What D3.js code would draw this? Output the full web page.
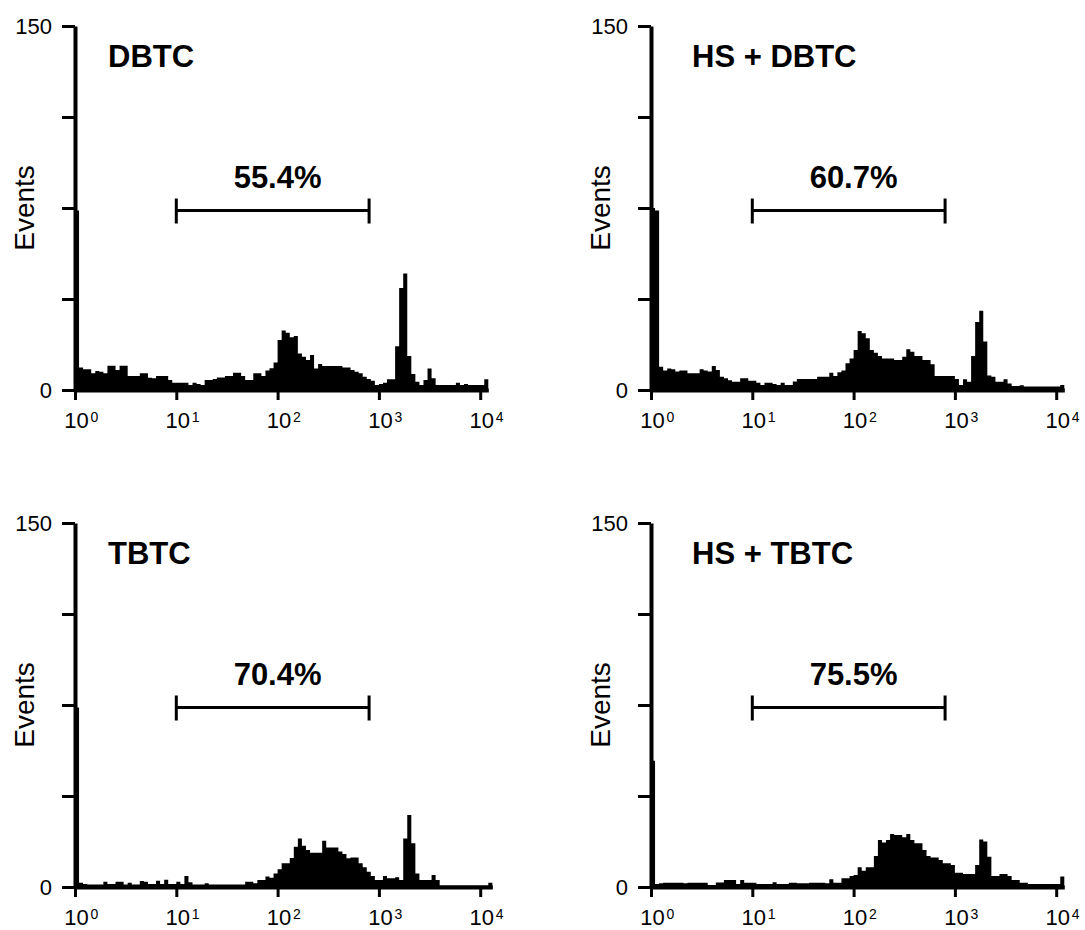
<!DOCTYPE html>
<html>
<head>
<meta charset="utf-8">
<script src="https://cdn.jsdelivr.net/npm/d3@7/dist/d3.min.js"></script>
<style>
body { margin: 0; background: #fff; }
svg { font-family: "Liberation Sans", Arial, Helvetica, sans-serif; }
</style>
</head>
<body>
<svg width="1085" height="930"></svg>
<script>
// each histogram bin is 0.04 decade wide, first bin starts at 10^0
var binWidth = 0.04;
var titles = ["DBTC", "HS + DBTC", "TBTC", "HS + TBTC"];
var percents = ["55.4%", "60.7%", "70.4%", "75.5%"];
var gate = [10, 800];
var yTicks = [0, 37.5, 75, 112.5, 150];
var yLabels = [0, 150];
var xTicks = [1, 10, 100, 1000, 10000];

var dbtc = [74, 9.3, 8.5, 8.5, 6.9, 7.8, 7.5, 6.9, 10, 10,
  8.2, 10, 10, 5.8, 5.8, 5.8, 6.9, 6.9, 5, 4.8,
  5.8, 5.8, 5.8, 4.1, 3, 3, 3, 3, 2.1, 3,
  2.5, 2.1, 4.1, 4.1, 4.5, 5.2, 5.2, 5.8, 5.8, 7.1,
  7.1, 5.8, 4.1, 4.1, 6.9, 6.9, 5.8, 8, 9, 11.3,
  20.6, 24.5, 23.6, 21.7, 22.3, 15, 13.7, 12.4, 14.4, 8.9,
  10.7, 9.9, 9.9, 9.9, 9.9, 9.9, 9.3, 9.3, 8.2, 7.5,
  6.9, 5.5, 4.5, 3.8, 2.1, 2.5, 3, 4.4, 4.4, 18,
  42, 48, 14, 6.6, 3.4, 2.1, 4.1, 8.9, 4.8, 2.1,
  2.1, 2.1, 2.1, 2.1, 3, 2.1, 2.5, 2.1, 2.1, 2.1,
  2.1, 4.4];

var hsDbtc = [75, 74, 9.6, 8, 8.9, 8.5, 7.6, 8, 8, 6.9,
  6.9, 6.9, 8.5, 8, 7.6, 9.9, 8.2, 5.5, 4.8, 4,
  3.4, 3.4, 4.8, 4.8, 3.8, 3.8, 3, 2.1, 3, 3,
  2.5, 2.1, 3, 2.1, 2.1, 3.5, 4.5, 4.5, 4.5, 4.5,
  4.5, 5.5, 5.5, 5.5, 7.1, 5.8, 7.3, 8, 11, 13,
  16.5, 24.3, 23.4, 21.3, 16.5, 15.4, 14, 13, 13, 13,
  12.4, 12.4, 13.7, 16.8, 15.8, 14, 14, 12.4, 12.4, 10.6,
  5.8, 5.8, 5.8, 5.8, 5.8, 4.5, 2.1, 4.4, 3.4, 14,
  28, 32.7, 20, 6, 5.5, 3.4, 3.4, 4.4, 2.7, 1.6,
  1.6, 2, 1.4, 1.4, 1.4, 1.4, 1.4, 1.4, 1.4, 1.4,
  1.4, 2.1];

var tbtc = [74, 1.8, 1.2, 1, 1, 1, 1, 2.2, 1.2, 1.2,
  2.2, 2.2, 1, 1.8, 1, 1, 2.5, 2.2, 1.2, 1.2,
  2.6, 1.2, 3, 1.2, 1.2, 2.2, 1.2, 4.5, 2, 1,
  1, 1, 1.5, 1, 1, 1, 1, 1, 1, 1,
  1, 1, 2.2, 2.2, 1.5, 2.9, 2.9, 4.3, 3.8, 5.6,
  7.3, 9.8, 9.8, 12, 16.6, 20, 17, 15.2, 14.1, 14.1,
  14.1, 19.1, 16.3, 16.3, 16.3, 14.6, 13.6, 11.8, 12.2, 12.2,
  9.8, 8.1, 6.3, 4.5, 2.9, 2.9, 4.5, 3.6, 3.6, 4,
  2.9, 20, 29.7, 18, 5.6, 2.9, 2.9, 2.9, 4.9, 2.9,
  0.6, 0.6, 0.6, 0.6, 0.6, 0.6, 0.6, 0.6, 0.6, 0.6,
  0.6, 0.6, 1.8];

var hsTbtc = [52, 1.2, 1.5, 1.8, 1.8, 1.8, 1.8, 1.8, 1.5, 1.8,
  1.8, 1.8, 1.8, 1.8, 0.8, 0.8, 1.9, 1.9, 2.9, 2.9,
  2.9, 1.2, 2.9, 1.8, 1.8, 1.8, 1.2, 1.2, 1.2, 1.2,
  2, 1.2, 1.2, 1.2, 1.8, 1.8, 1.5, 1.5, 1.5, 1.8,
  1.8, 1.8, 1.8, 1.5, 3.2, 1.8, 1.8, 3.6, 3.6, 4.5,
  4.9, 8.1, 6.7, 8.1, 8.1, 12.8, 19.4, 18.3, 19.4, 21.8,
  21.4, 21.4, 20.5, 21.8, 19.4, 18, 18, 15.2, 12.8, 12.2,
  12.2, 11.1, 9.8, 9.8, 9.1, 5.9, 5.9, 5.4, 5.4, 5.4,
  9.1, 19.6, 18.7, 12.5, 4.5, 4.5, 5.4, 5.4, 4.5, 2.9,
  2.9, 1.8, 1.8, 1.2, 1.2, 1.2, 1.2, 1.2, 1.2, 1.2,
  1.2, 4.3];

var series = [dbtc, hsDbtc, tbtc, hsTbtc];

var svg = d3.select("svg"),
    colLeft = [75, 651],
    rowTop = [26, 523],
    titleDx = [33, 41],
    decade = 101.3,
    height = 364;

var y = d3.scaleLinear().domain([0, 150]).range([height, 0]);

series.forEach(function(counts, k) {
  var col = k % 2, row = Math.floor(k / 2);
  var g = svg.append("g").attr("transform", "translate(" + colLeft[col] + "," + rowTop[row] + ")");

  var top = counts.length * binWidth;
  var x = d3.scaleLog().domain([1, Math.pow(10, top)]).range([0, decade * top]);

  // bins -> step points
  var pts = counts.map(function(n, i) { return {x: Math.pow(10, i * binWidth), n: n}; });
  pts.push({x: Math.pow(10, top), n: counts[counts.length - 1]});

  var area = d3.area()
      .curve(d3.curveStepAfter)
      .x(function(d) { return x(d.x); })
      .y0(y(0))
      .y1(function(d) { return y(d.n); });

  g.append("path").datum(pts).attr("d", area).attr("fill", "#000");

  // gate bracket
  var gy = y(74);
  g.append("path")
   .attr("d", "M" + x(gate[0]) + "," + (gy - 12) + "V" + (gy + 13) +
              "M" + x(gate[0]) + "," + gy + "H" + x(gate[1]) +
              "M" + x(gate[1]) + "," + (gy - 12) + "V" + (gy + 13))
   .attr("stroke", "#000").attr("stroke-width", 3).attr("fill", "none");

  g.append("text")
   .attr("x", x(100)).attr("y", gy - 22)
   .attr("text-anchor", "middle")
   .style("font-size", "31px").style("font-weight", "bold")
   .text(percents[k]);

  g.append("text")
   .attr("x", titleDx[col]).attr("y", 41)
   .style("font-size", "31px").style("font-weight", "bold")
   .text(titles[k]);

  // x axis, labels as 10 with a raised exponent
  var xg = g.append("g")
      .attr("transform", "translate(0," + height + ")")
      .call(d3.axisBottom(x).tickValues(xTicks).tickSize(10).tickSizeOuter(0));
  xg.select(".domain").attr("stroke-width", 4);
  xg.selectAll(".tick line").attr("stroke-width", 3);
  xg.selectAll(".tick text").remove();
  xg.selectAll(".tick").each(function(d) {
    var t = d3.select(this);
    t.append("text").attr("x", 1).attr("y", 38).attr("text-anchor", "middle")
     .attr("fill", "#000").style("font-size", "22px").style("font-family", "inherit")
     .text("10");
    t.append("text").attr("x", 15).attr("y", 32).attr("text-anchor", "start")
     .attr("fill", "#000").style("font-size", "14px").style("font-family", "inherit")
     .text(Math.round(Math.log10(d)));
  });

  // y axis, only 0 and 150 labelled
  var yg = g.append("g")
      .call(d3.axisLeft(y).tickValues(yTicks).tickSize(13).tickSizeOuter(0).tickPadding(10)
        .tickFormat(function(d) { return yLabels.indexOf(d) >= 0 ? d : ""; }));
  yg.select(".domain").attr("stroke-width", 4);
  yg.selectAll(".tick line").attr("stroke-width", 3);
  yg.selectAll(".tick text")
    .attr("fill", "#000").style("font-size", "22px").style("font-family", "inherit");

  g.append("text")
   .attr("transform", "rotate(-90)")
   .attr("x", -height / 2).attr("y", -41)
   .attr("text-anchor", "middle")
   .style("font-size", "28px")
   .text("Events");
});
</script>
</body>
</html>
